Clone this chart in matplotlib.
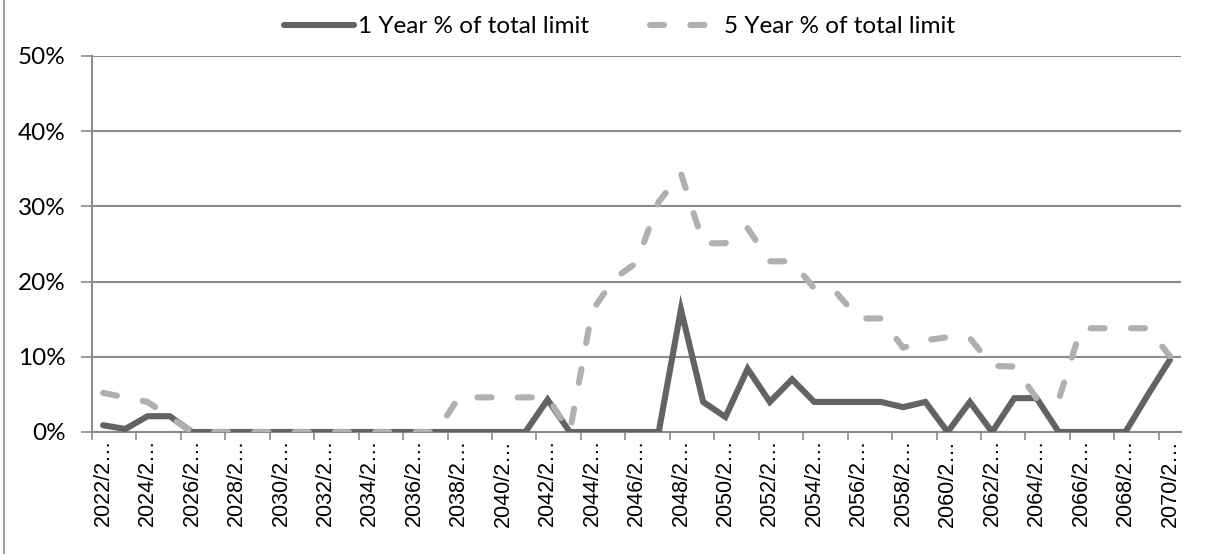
import numpy as np
import matplotlib.pyplot as plt
from matplotlib.lines import Line2D

years = list(range(2022, 2071))
labels = [f"{y}/2\u2026" for y in years]

one_year = [0.9, 0.4, 2.1, 2.1, 0, 0, 0, 0, 0, 0,
            0, 0, 0, 0, 0, 0, 0, 0, 0, 0,
            4.3, 0, 0, 0, 0, 0, 16.3, 4.0, 2.0, 8.4,
            4.0, 7.0, 4.0, 4.0, 4.0, 4.0, 3.3, 4.0, 0, 4.0,
            0, 4.5, 4.5, 0, 0, 0, 0, 4.9, 9.6]

five_year = [5.2, 4.6, 4.0, 2.0, 0, 0, 0, 0, 0, 0,
             0, 0, 0, 0, 0, 0, 4.6, 4.6, 4.6, 4.6,
             4.6, 0, 16.1, 20.4, 22.5, 30.6, 34.4, 25.1, 25.1, 27.1,
             22.7, 22.7, 19.1, 18.5, 15.1, 15.1, 11.2, 12.2, 12.6, 12.5,
             8.8, 8.7, 4.5, 4.3, 13.8, 13.8, 13.8, 13.8, 10.1]

dark = "#636363"
light = "#b0b0b0"
grid_c = "#8c8c8c"
txt_font = ["Lato", "DejaVu Sans"]

fig = plt.figure(figsize=(12.05, 5.54), dpi=100)
ax = fig.add_axes([92 / 1205, 1 - 432 / 554, (1181 - 92) / 1205, (432 - 56) / 554])

x = np.arange(len(years))
y1 = np.array(one_year) / 100
y5 = np.array(five_year) / 100

ax.plot(x, y1, color=dark, lw=4.4, solid_capstyle="round", solid_joinstyle="miter",
        label="1 Year % of total limit", zorder=3)
ax.plot(x, y5, color=light, lw=4.4, dashes=(2.3, 4.3), dash_capstyle="round",
        label="5 Year % of total limit", zorder=3)

ax.set_xlim(-0.5, len(years) - 0.5)
ax.set_ylim(0, 0.5)
yt = np.arange(0, 0.51, 0.1)
ax.set_yticks(yt)
ax.set_yticklabels([f"{int(round(v * 100))}%" for v in yt], fontsize=17.5, family=txt_font)
ax.yaxis.grid(True, color=grid_c, lw=1.5)
ax.set_axisbelow(True)

# tick marks sit on the boundaries, labels on every other category
ax.set_xticks(np.arange(-0.5, len(years) - 0.5, 2))
ax.set_xticklabels([])
ax.set_xticks(x[::2], minor=True)
ax.set_xticklabels(labels[::2], minor=True, rotation=90, fontsize=15.5,
                   family=["Liberation Sans", "DejaVu Sans"])
ax.tick_params(axis="x", which="major", length=6, width=1.2, color=grid_c)
ax.tick_params(axis="x", which="minor", length=0, pad=5)
ax.tick_params(axis="y", length=8, width=1.2, color=grid_c, pad=11)

for s in ["top", "right"]:
    ax.spines[s].set_visible(False)
for s in ["left", "bottom"]:
    ax.spines[s].set_color(grid_c)
    ax.spines[s].set_linewidth(1.5)

leg = fig.legend(loc="center", bbox_to_anchor=(0.514, 0.952), ncol=2, frameon=False,
                 handlelength=2.9, handletextpad=0.15, columnspacing=2.5,
                 prop={"family": txt_font, "size": 17.5})

# chart frame edge on the left
fig.add_artist(Line2D([4 / 1205, 4 / 1205], [0, 1], color="#8c8c8c", lw=1.2))

fig.savefig("out.png", dpi=100)
